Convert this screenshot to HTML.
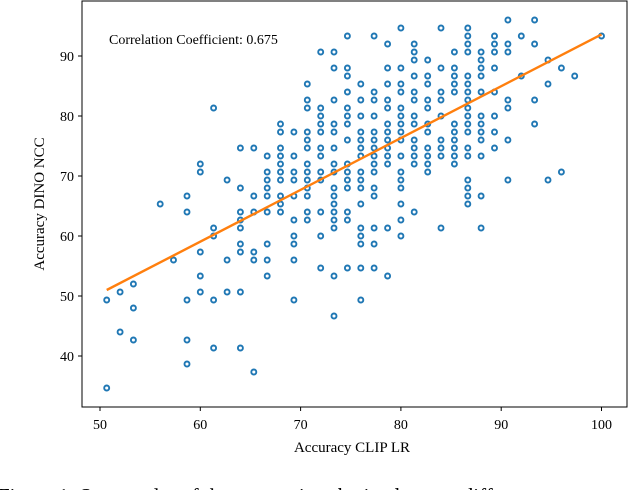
<!DOCTYPE html>
<html><head><meta charset="utf-8"><style>
html,body{margin:0;padding:0;background:#fff;width:630px;height:490px;overflow:hidden}
svg{display:block;font-family:"Liberation Serif",serif}
</style></head><body>
<svg id="chart" width="630" height="490" viewBox="0 0 630 490">
<rect x="82" y="1" width="545" height="406" fill="#fff" stroke="#000" stroke-width="1"/>
<g id="ticks"></g>
<g id="points"></g>
<g id="fit"></g>
<text x="109" y="44" font-size="14" fill="#000">Correlation Coefficient: 0.675</text>
<text x="352" y="452" font-size="15" text-anchor="middle">Accuracy CLIP LR</text>
<text transform="translate(44,204) rotate(-90)" font-size="15" text-anchor="middle">Accuracy DINO NCC</text>
<text x="-2" y="503" font-size="21">Figure 1: Scatter plot of the accuracies obtained across different</text>
</svg>
<script>
const columnX = [50.67,52,53.33,56,57.33,58.67,60,61.33,62.67,64,65.33,66.67,68,69.33,70.67,72,73.33,74.67,76,77.33,78.67,80,81.33,82.67,84,85.33,86.67,88,89.33,90.67,92,93.33,94.67,96,97.33,100];
const columnY = [
[49.33,34.67],
[50.67,44],
[52,48,42.67],
[65.33],
[56],
[66.67,64,49.33,42.67,38.67],
[72,70.67,57.33,53.33,50.67],
[81.33,61.33,60,49.33,41.33],
[69.33,56,50.67],
[74.67,68,64,62.67,61.33,58.67,57.33,50.67,41.33],
[74.67,66.67,64,57.33,56,37.33],
[73.33,70.67,69.33,68,66.67,64,58.67,56,53.33],
[78.67,77.33,74.67,73.33,72,70.67,69.33,66.67,65.33,64],
[77.33,73.33,70.67,69.33,66.67,62.67,60,58.67,56,49.33],
[85.33,82.67,81.33,77.33,76,74.67,72,70.67,69.33,68,66.67,64,62.67],
[90.67,81.33,80,78.67,77.33,74.67,73.33,70.67,69.33,64,60,54.67],
[90.67,88,82.67,78.67,77.33,74.67,72,70.67,68,66.67,65.33,64,62.67,61.33,53.33,46.67],
[93.33,88,86.67,84,81.33,80,78.67,76,72,70.67,69.33,68,64,62.67,54.67],
[85.33,82.67,80,77.33,76,74.67,73.33,70.67,69.33,68,65.33,61.33,60,58.67,54.67,49.33],
[93.33,84,82.67,80,77.33,76,74.67,73.33,72,70.67,68,66.67,61.33,58.67,54.67],
[92,88,85.33,82.67,81.33,78.67,77.33,76,74.67,73.33,72,61.33,53.33],
[94.67,88,85.33,84,81.33,80,78.67,77.33,76,73.33,70.67,69.33,68,65.33,62.67,60],
[92,90.67,89.33,86.67,84,82.67,80,78.67,76,74.67,73.33,72,64],
[89.33,86.67,85.33,82.67,81.33,78.67,77.33,74.67,73.33,72,70.67],
[94.67,88,84,82.67,80,76,74.67,73.33,61.33],
[90.67,88,86.67,85.33,84,78.67,77.33,76,74.67,73.33,72],
[94.67,93.33,92,90.67,86.67,85.33,84,82.67,81.33,80,78.67,77.33,74.67,73.33,69.33,68,66.67,65.33],
[90.67,89.33,88,86.67,84,80,78.67,77.33,76,73.33,66.67,61.33],
[93.33,92,90.67,88,84,80,77.33,74.67],
[96,92,90.67,82.67,81.33,76,69.33],
[93.33,86.67],
[96,92,82.67,78.67],
[89.33,85.33,69.33],
[88,70.67],
[86.67],
[93.33]
];
const lineX = [50.67, 100];
const lineY = [51.0, 93.6];
const xTicks = [50,60,70,80,90,100];
const yTicks = [40,50,60,70,80,90];

const NS = "http://www.w3.org/2000/svg";
function sx(v){ return 100 + (v - 50) * 10.03; }
function sy(v){ return 56 + (90 - v) * 6.0; }
function mk(tag, attrs){ const e = document.createElementNS(NS, tag); for (const k in attrs) e.setAttribute(k, attrs[k]); return e; }

const tg = document.getElementById('ticks');
xTicks.forEach(t => {
  const l = mk('line', {x1: sx(t), x2: sx(t), y1: 407, y2: 411, stroke: '#000', 'stroke-width': 1});
  
  
  tg.appendChild(l);
  const tx = mk('text', {x: sx(t), y: 429, 'font-size': 14, 'text-anchor': 'middle'});
  tx.textContent = t;
  
  
  tg.appendChild(tx);
});
yTicks.forEach(t => {
  const l = mk('line', {x1: 78, x2: 82, y1: sy(t), y2: sy(t), stroke: '#000', 'stroke-width': 1});
  
  
  tg.appendChild(l);
  const tx = mk('text', {x: 74, y: sy(t) + 5, 'font-size': 14, 'text-anchor': 'end'});
  tx.textContent = t;
  
  
  tg.appendChild(tx);
});

const pg = document.getElementById('points');
columnX.forEach((x, i) => {
  columnY[i].forEach(y => {
    const c = mk('circle', {cx: sx(x).toFixed(1), cy: sy(y).toFixed(1), r: 2.5, fill: '#fff', stroke: '#1f77b4', 'stroke-width': 1.9});
    
    
    pg.appendChild(c);
  });
});

const fg = document.getElementById('fit');
const ln = mk('line', {x1: sx(lineX[0]), y1: sy(lineY[0]), x2: sx(lineX[1]), y2: sy(lineY[1]), stroke: '#ff7f0e', 'stroke-width': 2.4});


fg.appendChild(ln);
</script>
</body></html>
